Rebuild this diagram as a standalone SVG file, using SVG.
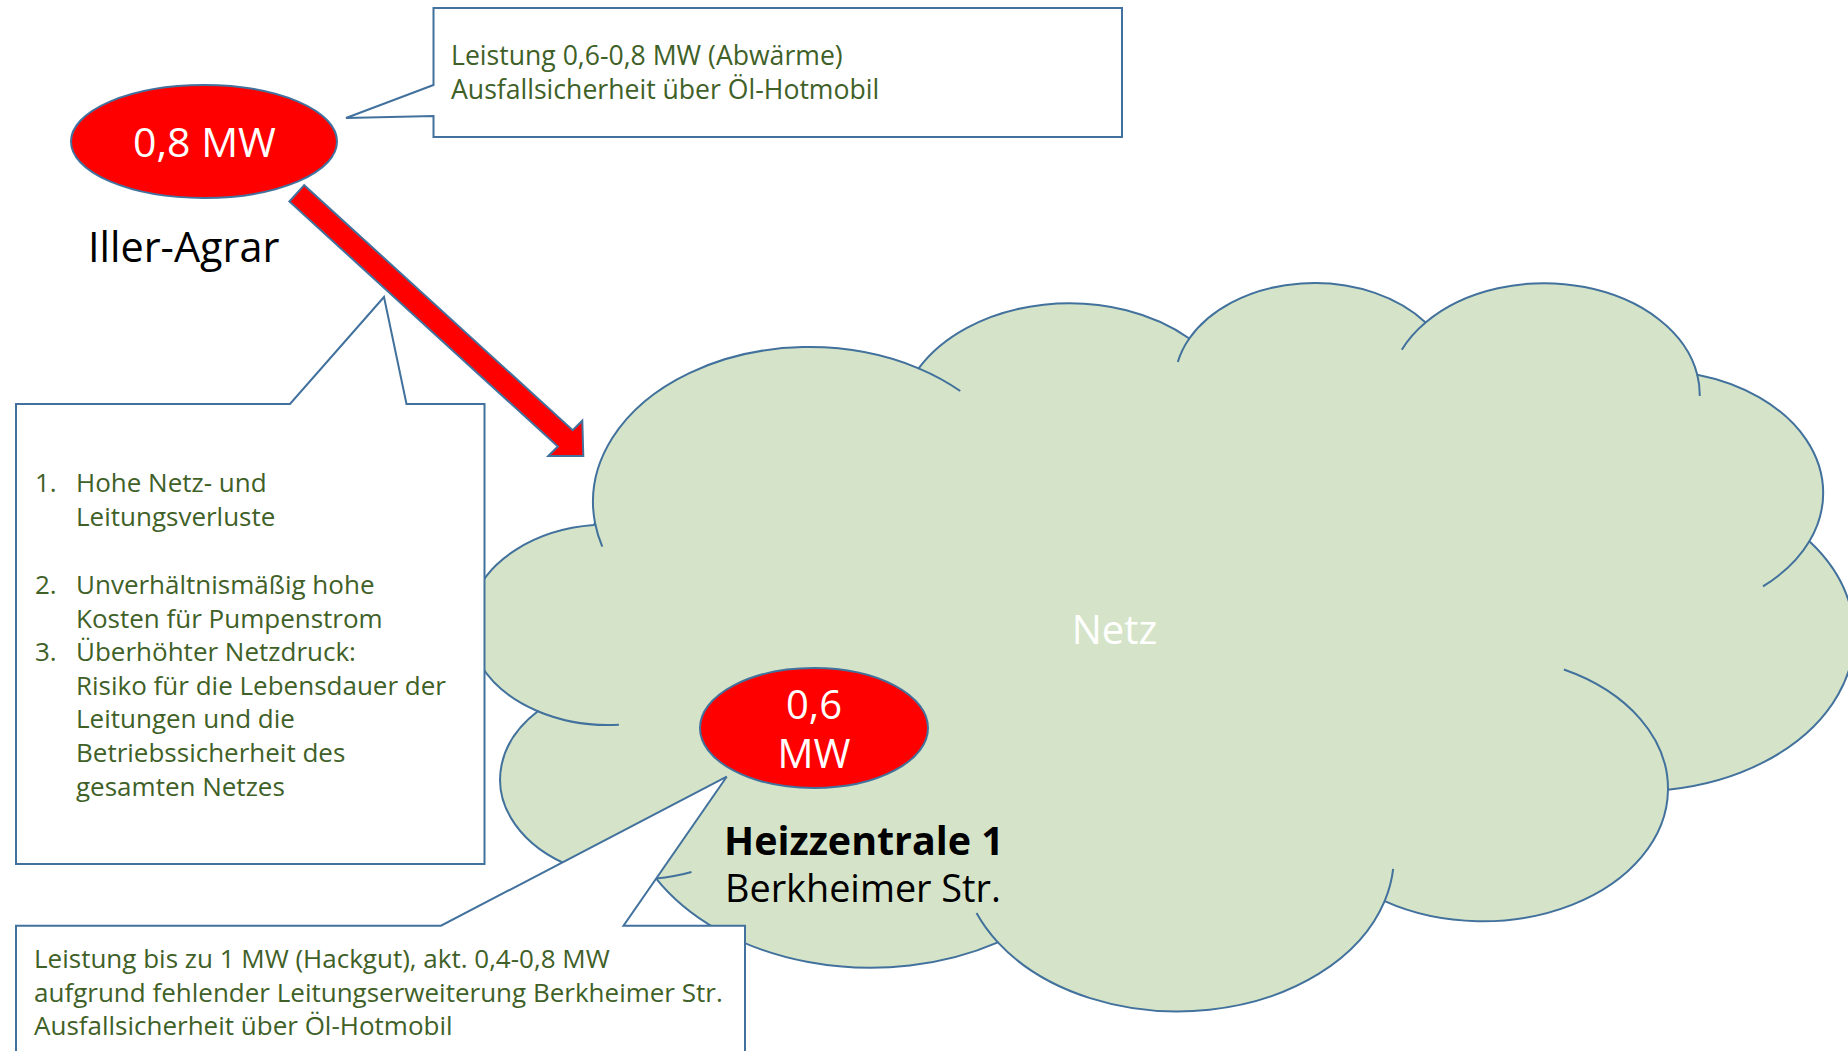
<svg xmlns="http://www.w3.org/2000/svg" width="1848" height="1051" viewBox="0 0 1848 1051">
  <style>
    .callout { fill: #FFFFFF; stroke: #41719C; stroke-width: 2; stroke-linejoin: miter; }
    .red { fill: #FF0000; stroke: #41719C; stroke-width: 2; }
    .body { font-family: "Open Sans", "Noto Sans", "DejaVu Sans", sans-serif; font-size: 26px; fill: #3F6128; }
    .big { font-family: "Open Sans", "Noto Sans", "DejaVu Sans", sans-serif; font-size: 40px; }
    .white { fill: #FFFFFF; }
    .black { fill: #000000; }
  </style>
  <rect width="1848" height="1051" fill="#FFFFFF"/>

  <g id="netz">
    <g transform="translate(470.1 280.6) scale(0.032023 0.016854)">
      <path fill="#D5E4C8" stroke="#41719C" stroke-width="2" vector-effect="non-scaling-stroke"
        d="M3900 14370 A6753 9190 0 0 1 14006.7 5203.6 A5333 7267 0 0 1 22459 3434.3 A4365 5945 0 0 1 29837.1 2486.6 A4857 6595 0 0 1 38321.8 5582.6 A5333 7273 0 0 1 41822.2 15466.3 A6775 9220 0 0 1 37407 30207.9 A5785 7867 0 0 1 28558.5 36818 A6752 9215 0 0 1 16481.4 39266 A7720 10543 0 0 1 5805.1 35471.6 A4360 5918 0 0 1 2113.2 25550.6 A4345 5945 0 0 1 3863.8 14507.4 Z"/>
      <path fill="none" stroke="#41719C" stroke-width="2" vector-effect="non-scaling-stroke"
        d="M4646.8 26348 A4345 5945 0 0 1 2113.2 25550.6 M6913.5 35090.2 A4360 5918 0 0 1 5805.1 35471.6 M16481.4 39266 A6752 9215 0 0 1 15815.2 37528 M28825.1 34908.9 A6752 9215 0 0 1 28558.5 36818 M34155.6 23072.4 A5785 7867 0 0 1 37407 30207.9 M41822.2 15466.3 A5333 7273 0 0 1 40374 18142.4 M38321.8 5582.6 A4857 6595 0 0 1 38398.2 6846.2 M29094.8 4099.3 A4857 6595 0 0 1 29837.1 2486.6 M22099.8 4825.6 A4365 5945 0 0 1 22459 3434.3 M14006.7 5203.6 A6753 9190 0 0 1 15306.6 6552.8 M4126.8 15789.1 A6753 9190 0 0 1 3900 14370"/>
    </g>
    <text class="big white" x="1114.5" y="644" text-anchor="middle">Netz</text>
  </g>

  <g id="heizzentrale">
    <ellipse class="red" cx="814" cy="728" rx="114" ry="60"/>
    <text class="big white" text-anchor="middle"><tspan x="814" y="719">0,6</tspan><tspan x="814" y="768">MW</tspan></text>
    <text class="big black" x="724" y="855" style="font-size:39.4px;font-weight:bold">Heizzentrale 1</text>
    <text class="big black" x="725" y="902" style="font-size:37.8px">Berkheimer Str.</text>
  </g>

  <g id="iller-agrar">
    <ellipse class="red" cx="204" cy="141.5" rx="133" ry="56.5"/>
    <text class="big white" x="204.5" y="157" text-anchor="middle" style="font-size:41px">0,8 MW</text>
    <text class="big black" x="88" y="262" style="font-size:41.4px">Iller-Agrar</text>
  </g>

  <g id="callout-top">
    <path class="callout" d="M433.5 8 H1122 V137 H433.5 V116 L346 118 L433.5 85 Z"/>
    <text class="body" x="451" y="65" style="font-size:26.6px">Leistung 0,6-0,8 MW (Abwärme)</text>
    <text class="body" x="451" y="99" style="font-size:26.6px">Ausfallsicherheit über Öl-Hotmobil</text>
  </g>

  <g id="callout-left">
    <path class="callout" d="M16 404 H290 L384 297 L406.5 404 H484.5 V864 H16 Z"/>
    <g class="body">
      <text x="35" y="492">1.</text>
      <text x="76" y="492">Hohe Netz- und</text>
      <text x="76" y="526">Leitungsverluste</text>
      <text x="35" y="594">2.</text>
      <text x="76" y="594">Unverhältnismäßig hohe</text>
      <text x="76" y="628">Kosten für Pumpenstrom</text>
      <text x="35" y="661">3.</text>
      <text x="76" y="661">Überhöhter Netzdruck:</text>
      <text x="76" y="695">Risiko für die Lebensdauer der</text>
      <text x="76" y="728">Leitungen und die</text>
      <text x="76" y="762">Betriebssicherheit des</text>
      <text x="76" y="796">gesamten Netzes</text>
    </g>
  </g>

  <g id="callout-bottom">
    <path class="callout" d="M16 925.7 H441 L726.7 776.7 L623.5 925.7 H745 V1070 H16 Z"/>
    <text class="body" x="34" y="968">Leistung bis zu 1 MW (Hackgut), akt. 0,4-0,8 MW</text>
    <text class="body" x="34" y="1002">aufgrund fehlender Leitungserweiterung Berkheimer Str.</text>
    <text class="body" x="34" y="1035">Ausfallsicherheit über Öl-Hotmobil</text>
  </g>

  <g id="connectors">
    <polygon class="red" points="289.4,201.5 304.2,185.2 572.7,430.2 582.3,420.7 583.3,456 548.3,456 557.9,446.5"/>
  </g>
</svg>
